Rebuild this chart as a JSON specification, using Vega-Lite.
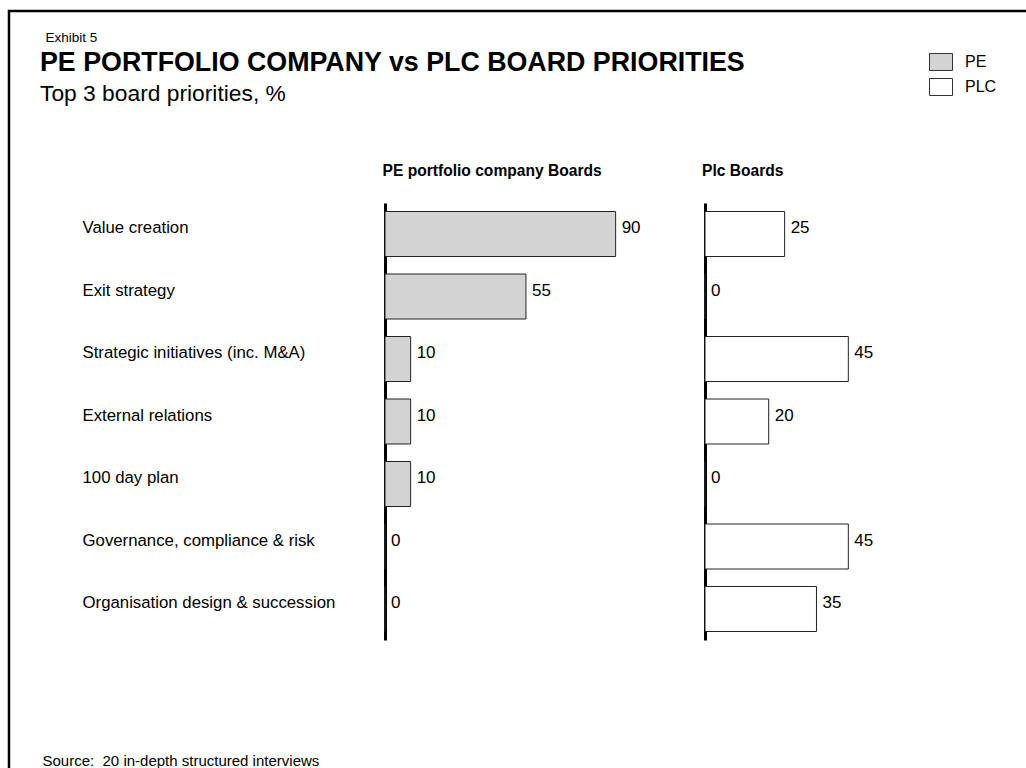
{
  "$schema": "https://vega.github.io/schema/vega-lite/v6.json",
  "autosize": "none",
  "width": 1030,
  "height": 770,
  "padding": {"left": 9, "top": 11, "right": 0, "bottom": 0},
  "background": "white",
  "config": {
    "font": "Liberation Sans",
    "view": {"stroke": "black", "strokeWidth": 2.5},
    "legend": {
      "orient": "none",
      "legendX": 920,
      "legendY": 39,
      "padding": 0,
      "symbolType": "M-1,-0.739H1V0.739H-1Z",
      "symbolSize": 529,
      "symbolStrokeColor": "#333333",
      "symbolStrokeWidth": 1,
      "symbolOpacity": 1,
      "labelFontSize": 16,
      "labelColor": "black",
      "labelOffset": 12,
      "rowPadding": 2
    }
  },
  "title": {
    "text": "PE PORTFOLIO COMPANY vs PLC BOARD PRIORITIES",
    "subtitle": "Top 3 board priorities, %",
    "anchor": "start",
    "frame": "group",
    "orient": "top",
    "offset": -95,
    "dx": 31,
    "font": "Liberation Sans",
    "fontSize": 26.8,
    "fontWeight": "bold",
    "color": "black",
    "subtitleFont": "Liberation Sans",
    "subtitleFontSize": 22.8,
    "subtitleColor": "black",
    "subtitlePadding": 6
  },
  "data": {
    "values": [
      {"priority": "Value creation", "board": "PE", "value": 90},
      {"priority": "Exit strategy", "board": "PE", "value": 55},
      {"priority": "Strategic initiatives (inc. M&A)", "board": "PE", "value": 10},
      {"priority": "External relations", "board": "PE", "value": 10},
      {"priority": "100 day plan", "board": "PE", "value": 10},
      {"priority": "Governance, compliance & risk", "board": "PE", "value": 0},
      {"priority": "Organisation design & succession", "board": "PE", "value": 0},
      {"priority": "Value creation", "board": "PLC", "value": 25},
      {"priority": "Exit strategy", "board": "PLC", "value": 0},
      {"priority": "Strategic initiatives (inc. M&A)", "board": "PLC", "value": 45},
      {"priority": "External relations", "board": "PLC", "value": 20},
      {"priority": "100 day plan", "board": "PLC", "value": 0},
      {"priority": "Governance, compliance & risk", "board": "PLC", "value": 45},
      {"priority": "Organisation design & succession", "board": "PLC", "value": 35}
    ]
  },
  "resolve": {
    "scale": {"x": "independent", "y": "independent"},
    "axis": {"x": "independent", "y": "independent"}
  },
  "layer": [
    {
      "transform": [{"filter": "datum.board === 'PE'"}],
      "encoding": {
        "y": {
          "field": "priority",
          "type": "nominal",
          "sort": null,
          "scale": {"range": [192, 629], "paddingInner": 0.28, "paddingOuter": 0.136},
          "axis": {
            "orient": "left",
            "offset": -376,
            "domainColor": "black",
            "domainWidth": 3,
            "ticks": false,
            "grid": false,
            "labelAlign": "left",
            "labelBaseline": "middle",
            "labelPadding": 303,
            "labelFontSize": 16.8,
            "labelColor": "black",
            "labelLimit": 400,
            "labelOffset": -6,
            "title": "Source:\u00a0 20 in-depth structured interviews",
            "titleAngle": 0,
            "titleAlign": "left",
            "titleBaseline": "middle",
            "titleX": -343,
            "titleY": 749,
            "titleFontSize": 15,
            "titleFontWeight": "normal",
            "titleColor": "black"
          }
        },
        "x": {
          "field": "value",
          "type": "quantitative",
          "scale": {"domain": [0, 100], "range": [376, 632.25]},
          "axis": {
            "orient": "top",
            "domain": false,
            "ticks": false,
            "labels": false,
            "grid": false,
            "title": "PE portfolio company Boards",
            "titleX": 373,
            "titleY": 159,
            "titleAlign": "left",
            "titleBaseline": "middle",
            "titleFontSize": 15.6,
            "titleFontWeight": "bold",
            "titleColor": "black"
          }
        }
      },
      "layer": [
        {
          "mark": {"type": "bar", "stroke": "#222222", "strokeWidth": 1},
          "encoding": {
            "fill": {
              "field": "board",
              "type": "nominal",
              "scale": {"domain": ["PE", "PLC"], "range": ["#d3d3d3", "#ffffff"]},
              "legend": {"title": null}
            }
          }
        },
        {
          "mark": {"type": "text", "align": "left", "baseline": "middle", "dx": 6, "dy": -6, "fontSize": 17, "color": "black"},
          "encoding": {"text": {"field": "value", "type": "quantitative"}}
        }
      ]
    },
    {
      "transform": [{"filter": "datum.board === 'PLC'"}],
      "encoding": {
        "y": {
          "field": "priority",
          "type": "nominal",
          "sort": null,
          "scale": {"range": [192, 629], "paddingInner": 0.28, "paddingOuter": 0.136},
          "axis": {
            "orient": "left",
            "offset": -696,
            "domainColor": "black",
            "domainWidth": 3,
            "ticks": false,
            "grid": false,
            "labels": false,
            "title": "Exhibit 5",
            "titleAngle": 0,
            "titleAlign": "left",
            "titleBaseline": "middle",
            "titleX": -660,
            "titleY": 26,
            "titleFontSize": 13.5,
            "titleFontWeight": "normal",
            "titleColor": "black"
          }
        },
        "x": {
          "field": "value",
          "type": "quantitative",
          "scale": {"domain": [0, 100], "range": [696, 1014.5]},
          "axis": {
            "orient": "top",
            "domain": false,
            "ticks": false,
            "labels": false,
            "grid": false,
            "title": "Plc Boards",
            "titleX": 692.5,
            "titleY": 159,
            "titleAlign": "left",
            "titleBaseline": "middle",
            "titleFontSize": 15.6,
            "titleFontWeight": "bold",
            "titleColor": "black"
          }
        }
      },
      "layer": [
        {
          "mark": {"type": "bar", "stroke": "#222222", "strokeWidth": 1},
          "encoding": {
            "fill": {
              "field": "board",
              "type": "nominal",
              "scale": {"domain": ["PE", "PLC"], "range": ["#d3d3d3", "#ffffff"]},
              "legend": {"title": null}
            }
          }
        },
        {
          "mark": {"type": "text", "align": "left", "baseline": "middle", "dx": 6, "dy": -6, "fontSize": 17, "color": "black"},
          "encoding": {"text": {"field": "value", "type": "quantitative"}}
        }
      ]
    }
  ]
}
